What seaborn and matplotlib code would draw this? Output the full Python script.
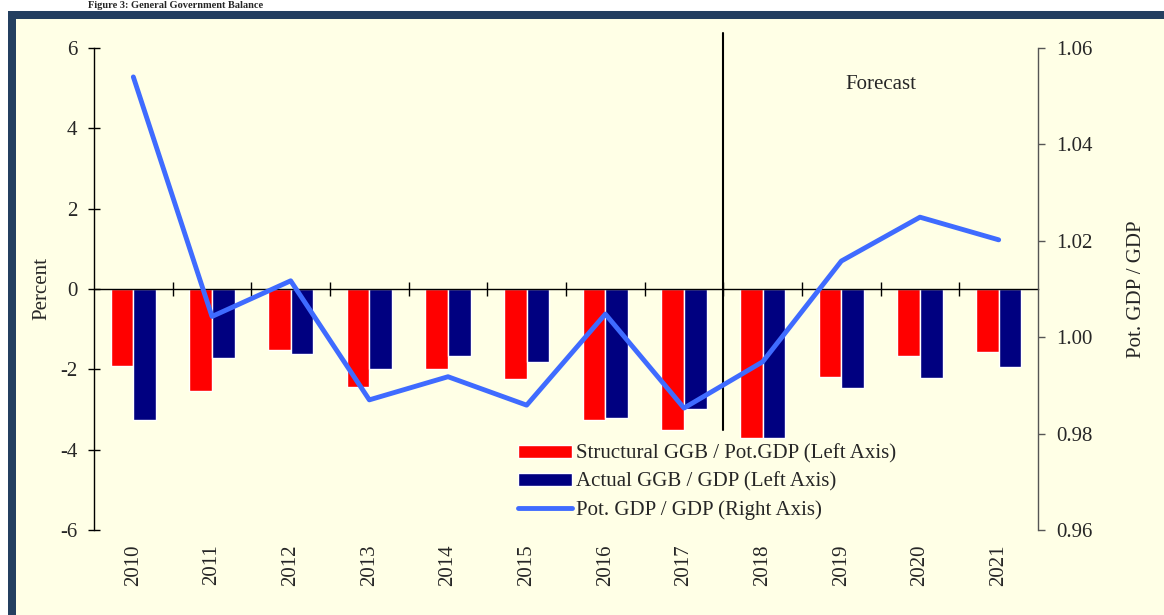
import numpy as np
import pandas as pd
import matplotlib
matplotlib.use("Agg")
import matplotlib.pyplot as plt
from matplotlib.patches import Rectangle
from matplotlib.lines import Line2D
import seaborn as sns

years = ["2010", "2011", "2012", "2013", "2014", "2015",
         "2016", "2017", "2018", "2019", "2020", "2021"]
structural_ggb = [-1.92, -2.53, -1.52, -2.45, -1.99, -2.23,
                  -3.26, -3.52, -3.72, -2.20, -1.68, -1.58]
actual_ggb = [-3.27, -1.71, -1.62, -1.98, -1.67, -1.81,
              -3.20, -2.99, -3.72, -2.47, -2.21, -1.93]
pot_gdp_ratio = [1.054, 1.0043, 1.0117, 0.987, 0.9918, 0.9859,
                 1.0048, 0.9853, 0.9949, 1.0158, 1.0249, 1.0202]

name_struct = "Structural GGB / Pot.GDP (Left Axis)"
name_actual = "Actual GGB / GDP (Left Axis)"
name_ratio = "Pot. GDP / GDP (Right Axis)"
forecast_start = 7.5
left_ticks = [-6, -4, -2, 0, 2, 4, 6]
right_ticks = [0.96, 0.98, 1.00, 1.02, 1.04, 1.06]

bg = "#FFFFE6"
frame = "#243F60"

sns.set_theme(style="white")
plt.rcParams["font.family"] = ["Liberation Serif", "DejaVu Serif"]
plt.rcParams["font.size"] = 15

df = pd.DataFrame({
    "year": years * 2,
    "value": structural_ggb + actual_ggb,
    "series": [name_struct] * len(years) + [name_actual] * len(years),
})

fig = plt.figure(figsize=(11.64, 6.15), dpi=100)
fig.patch.set_facecolor("white")
W, H = 1164, 615
fig.patches.append(Rectangle((8 / W, -0.1), 1.2, (604 / H) + 0.1,
                             transform=fig.transFigure, facecolor=frame,
                             edgecolor="none", zorder=-10))
fig.patches.append(Rectangle((16 / W, -0.1), 1.2, (596 / H) + 0.1,
                             transform=fig.transFigure, facecolor=bg,
                             edgecolor="none", zorder=-9))
fig.text(88 / W, 1 - 1 / H, "Figure 3: General Government Balance",
         fontsize=7.5, fontweight="bold", ha="left", va="top")

ax = fig.add_axes([94 / W, 85 / H, 944 / W, 482 / H])
ax.set_facecolor("none")
sns.barplot(data=df, x="year", y="value", hue="series",
            palette=["#FF0000", "#000080"], width=0.58, gap=0,
            saturation=1, ax=ax)
handles, labels = ax.get_legend_handles_labels()
ax.get_legend().remove()

ax.set_xlim(-0.5, len(years) - 0.5)
ax.set_ylim(-6, 6)
ax.set_yticks(left_ticks)
ax.set_yticklabels([str(t) for t in left_ticks])
ax.set_ylabel("Percent", fontsize=15, labelpad=6)
ax.set_xlabel("")

for s in ["top", "right"]:
    ax.spines[s].set_visible(False)
ax.spines["bottom"].set_position(("data", 0))
for s in ["left", "bottom"]:
    ax.spines[s].set_color("black")
    ax.spines[s].set_linewidth(1.0)

ax.set_xticks(range(len(years)))
ax.set_xticklabels(years, rotation=90)
ax.set_xticks(np.arange(0.5, len(years) - 0.5, 1.0), minor=True)
ax.tick_params(axis="x", which="major", length=0, pad=184, labelsize=15)
ax.tick_params(axis="x", which="minor", direction="inout", length=10,
               width=1, color="black", bottom=True)
ax.tick_params(axis="y", direction="inout", length=8, width=1,
               color="black", left=True, pad=8, labelsize=15)

ax.plot([forecast_start, forecast_start], [6.37, -3.5], color="black",
        lw=1.5, clip_on=False, zorder=5)
ax.text(9.5, 5.1, "Forecast", ha="center", va="center", fontsize=15)

ax2 = ax.twinx()
sns.lineplot(x=np.arange(len(years)), y=pot_gdp_ratio, ax=ax2,
             color="#3F6BFF", lw=3.5, legend=False)
ax2.set_ylim(0.96, 1.06)
ax2.set_yticks(right_ticks)
ax2.set_yticklabels([f"{t:.2f}" for t in right_ticks])
ax2.set_ylabel("Pot. GDP / GDP", fontsize=15, labelpad=25)
for s in ["top", "left", "bottom"]:
    ax2.spines[s].set_visible(False)
ax2.spines["right"].set_color("#555555")
ax2.spines["right"].set_linewidth(1.0)
ax2.tick_params(axis="y", direction="out", length=5, width=1,
                color="#555555", right=True, pad=8, labelsize=15)

handles = list(handles) + [Line2D([0], [0], color="#3F6BFF", lw=3.5)]
labels = list(labels) + [name_ratio]
ax2.legend(handles, labels, loc="lower left", bbox_to_anchor=(0.44, 0.004),
           frameon=False, fontsize=15, handlelength=2.6, handleheight=0.6,
           handletextpad=0.2, labelspacing=0.4, borderaxespad=0)

fig.savefig("out.png", dpi=100, facecolor=fig.get_facecolor())
